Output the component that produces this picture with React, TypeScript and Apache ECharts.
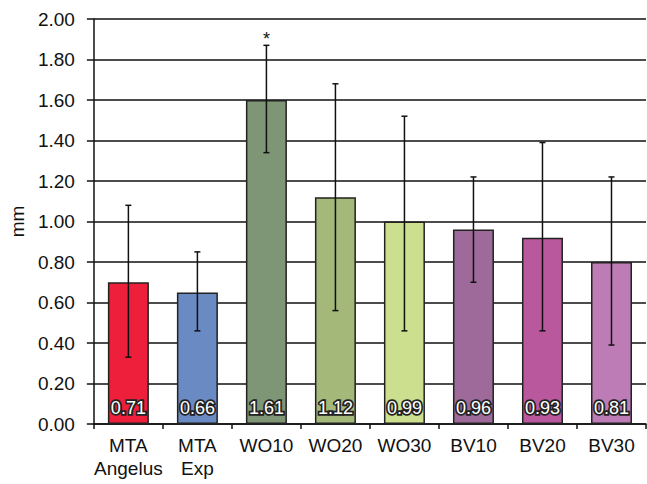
import React, { useEffect, useRef } from "react";
import * as echarts from "echarts";

const categories = ["MTA\nAngelus", "MTA\nExp", "WO10", "WO20", "WO30", "BV10", "BV20", "BV30"];
const barValues = [0.70, 0.65, 1.60, 1.12, 1.00, 0.96, 0.92, 0.80];
const valueLabels = ["0.71", "0.66", "1.61", "1.12", "0.99", "0.96", "0.93", "0.81"];
const errLow = [0.33, 0.46, 1.34, 0.56, 0.46, 0.70, 0.46, 0.39];
const errHigh = [1.08, 0.85, 1.87, 1.68, 1.52, 1.22, 1.39, 1.22];
const annotations = ["", "", "*", "", "", "", "", ""];
const barColors = ["#ED1F3A", "#6A8AC3", "#7E9576", "#A3B879", "#CBDF8F", "#9E6A9A", "#BA589E", "#BD7CB6"];

const FONT = '"Liberation Sans", Arial, Helvetica, sans-serif';

export default function App() {
  const ref = useRef<HTMLDivElement>(null);
  useEffect(() => {
    if (!ref.current) return;
    const chart = echarts.init(ref.current, undefined, { renderer: "svg" });
    const option: any = {
      animation: false,
      backgroundColor: "#ffffff",
      grid: { left: 93, right: 1, top: 19, bottom: 60, containLabel: false },
      xAxis: {
        type: "category",
        data: categories,
        axisLine: { show: true, lineStyle: { color: "#111", width: 1.5 } },
        axisTick: { show: true, length: 5, lineStyle: { color: "#111", width: 1.5 } },
        axisLabel: {
          color: "#111",
          fontSize: 19,
          fontFamily: FONT,
          lineHeight: 23,
          margin: 10,
          interval: 0,
        },
      },
      yAxis: {
        type: "value",
        min: 0,
        max: 2,
        interval: 0.2,
        name: "mm",
        nameLocation: "middle",
        nameGap: 64,
        nameRotate: 90,
        nameTextStyle: { color: "#111", fontSize: 19, fontFamily: FONT },
        axisLine: { show: true, lineStyle: { color: "#111", width: 1.5 } },
        axisTick: { show: true, length: 7, lineStyle: { color: "#111", width: 1.5 } },
        axisLabel: {
          color: "#111",
          fontSize: 19,
          fontFamily: FONT,
          margin: 19,
          formatter: (v: number) => v.toFixed(2),
        },
        splitLine: { show: true, lineStyle: { color: "#111", width: 1.5 } },
      },
      series: [
        {
          type: "bar",
          barWidth: 41,
          data: barValues.map((v, i) => ({
            value: v,
            itemStyle: { color: barColors[i], borderColor: "#222", borderWidth: 1.5 },
          })),
          label: {
            show: true,
            position: "insideBottom",
            distance: 7,
            formatter: (p: any) => valueLabels[p.dataIndex],
            color: "#ffffff",
            fontSize: 18,
            fontFamily: FONT,
            textBorderColor: "#222",
            textBorderWidth: 3.5,
          },
          z: 2,
        },
        {
          type: "custom",
          data: categories.map((_, i) => [i, errLow[i], errHigh[i]]),
          encode: { x: 0, y: [1, 2] },
          z: 3,
          renderItem: (params: any, api: any) => {
            const i = api.value(0);
            const lo = api.coord([i, api.value(1)]);
            const hi = api.coord([i, api.value(2)]);
            const hw = 3;
            const style = { stroke: "#111", lineWidth: 1.5 };
            const children: any[] = [
              { type: "line", shape: { x1: hi[0], y1: hi[1], x2: lo[0], y2: lo[1] }, style },
              { type: "line", shape: { x1: hi[0] - hw, y1: hi[1], x2: hi[0] + hw, y2: hi[1] }, style },
              { type: "line", shape: { x1: lo[0] - hw, y1: lo[1], x2: lo[0] + hw, y2: lo[1] }, style },
            ];
            const ann = annotations[params.dataIndex];
            if (ann) {
              children.push({
                type: "text",
                style: {
                  text: ann,
                  x: hi[0],
                  y: hi[1] - 6,
                  align: "center",
                  verticalAlign: "middle",
                  fill: "#111",
                  fontSize: 18,
                  fontFamily: FONT,
                },
              });
            }
            return { type: "group", children };
          },
        },
      ],
    };
    chart.setOption(option);
    return () => chart.dispose();
  }, []);
  return (
    <div
      ref={ref}
      style={{ position: "fixed", left: 0, top: 0, width: 647, height: 484, background: "#fff" }}
    />
  );
}
